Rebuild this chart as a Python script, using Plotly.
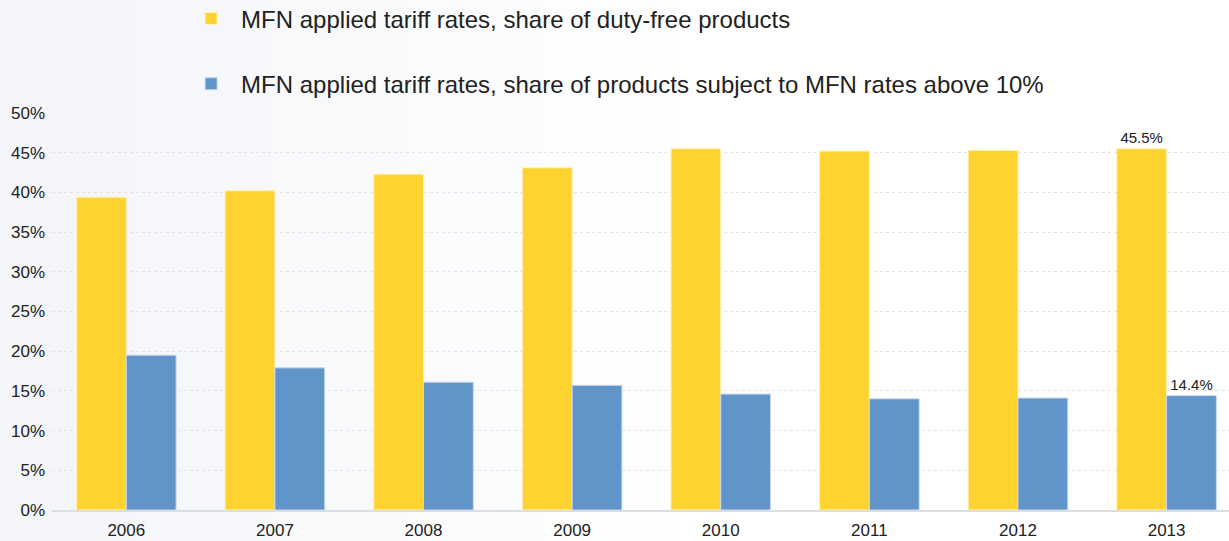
import plotly.graph_objects as go

years = ['2006', '2007', '2008', '2009', '2010', '2011', '2012', '2013']
duty_free = [39.4, 40.2, 42.3, 43.1, 45.5, 45.2, 45.3, 45.5]
above_10 = [19.5, 17.9, 16.1, 15.7, 14.6, 14.0, 14.1, 14.4]
y_ticks = [0, 5, 10, 15, 20, 25, 30, 35, 40, 45, 50]

name_free = 'MFN applied tariff rates, share of duty-free products'
name_above = 'MFN applied tariff rates, share of products subject to MFN rates above 10%'

W, H = 1229, 541
ML, MT, MB = 52, 113, 31

# only the last year gets a value label
label_free = [''] * (len(years) - 1) + [f'{duty_free[-1]}%']
label_above = [''] * (len(years) - 1) + [f'{above_10[-1]}%']

fig = go.Figure()
fig.add_trace(go.Bar(x=years, y=duty_free, name=name_free, legendgroup='a',
                     marker=dict(color='#fed330', line=dict(color='#fff1b8', width=1)),
                     text=label_free, textposition='outside', cliponaxis=False,
                     textfont=dict(size=15, color='#222')))
fig.add_trace(go.Bar(x=years, y=above_10, name=name_above, legendgroup='b',
                     marker=dict(color='#6194c8', line=dict(color='#c6d8ec', width=1)),
                     text=label_above, textposition='outside', cliponaxis=False,
                     textfont=dict(size=15, color='#222')))

# soft grey-to-white background fading from the left edge
pw = W - ML
n = 16
for i in range(n):
    t = i / (n - 1)
    r = int(243 + (255 - 243) * t)
    g = int(245 + (255 - 245) * t)
    b = int(249 + (255 - 249) * t)
    x0 = i * 45
    fig.add_shape(type='rect', xref='paper', yref='paper', layer='below',
                  x0=(x0 - ML) / pw, x1=(x0 + 46 - ML) / pw,
                  y0=-MB / (H - MT - MB) - 0.01, y1=1 + MT / (H - MT - MB) + 0.01,
                  fillcolor=f'rgb({r},{g},{b})', line=dict(width=0))

fig.update_layout(
    width=W, height=H,
    margin=dict(l=ML, r=0, t=MT, b=MB, autoexpand=False),
    paper_bgcolor='#ffffff', plot_bgcolor='rgba(0,0,0,0)',
    font=dict(family='Liberation Sans, Arial, sans-serif', color='#222'),
    barmode='group', bargap=0.33, bargroupgap=0,
    legend=dict(x=0.1097, y=1.2936, xanchor='left', yanchor='top',
                orientation='v', font=dict(size=24), tracegroupgap=31,
                itemwidth=50, bgcolor='rgba(0,0,0,0)'),
    showlegend=True,
)
fig.update_xaxes(range=[-0.5, 7.42], showgrid=False, showline=True,
                 linecolor='#dadde2', linewidth=2, ticks='', automargin=False,
                 tickfont=dict(size=17), ticklabelstandoff=4)
fig.update_yaxes(range=[0, 50], tickvals=y_ticks,
                 ticktext=[f'{v}%' for v in y_ticks], automargin=False,
                 showgrid=True, gridcolor='#e2e4e8', griddash='dot',
                 zeroline=False, tickfont=dict(size=17), ticklabelstandoff=6)

fig.write_html('out.html', config={'displayModeBar': False},
               post_script="document.body.style.margin='0';")
